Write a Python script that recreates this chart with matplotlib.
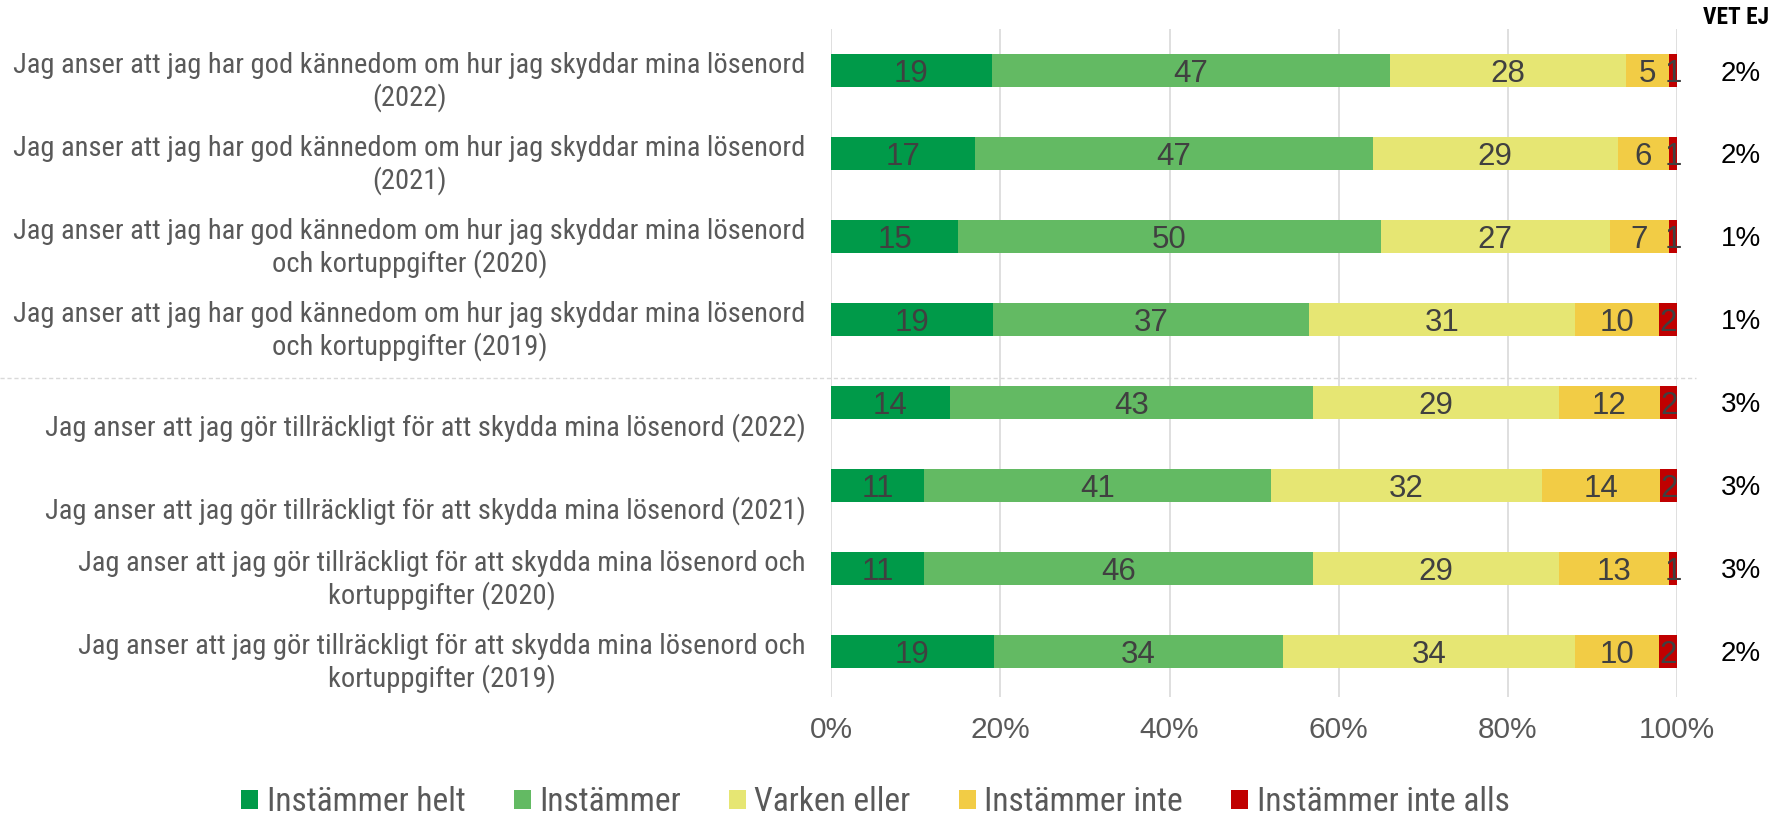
import matplotlib
matplotlib.use("Agg")
import matplotlib.pyplot as plt
from matplotlib import font_manager
from matplotlib.font_manager import FontProperties
import numpy as np

fragor = [
    "Jag anser att jag har god kännedom om hur jag skyddar mina lösenord\n(2022)",
    "Jag anser att jag har god kännedom om hur jag skyddar mina lösenord\n(2021)",
    "Jag anser att jag har god kännedom om hur jag skyddar mina lösenord\noch kortuppgifter (2020)",
    "Jag anser att jag har god kännedom om hur jag skyddar mina lösenord\noch kortuppgifter (2019)",
    "Jag anser att jag gör tillräckligt för att skydda mina lösenord (2022)",
    "Jag anser att jag gör tillräckligt för att skydda mina lösenord (2021)",
    "Jag anser att jag gör tillräckligt för att skydda mina lösenord och\nkortuppgifter (2020)",
    "Jag anser att jag gör tillräckligt för att skydda mina lösenord och\nkortuppgifter (2019)",
]
kategorier = ["Instämmer helt", "Instämmer", "Varken eller", "Instämmer inte", "Instämmer inte alls"]
helt = [19, 17, 15, 19.1, 14, 11, 11, 19.2]
instammer = [47, 47, 50, 37.4, 43, 41, 46, 34.2]
varken = [28, 29, 27, 31.4, 29, 32, 29, 34.5]
inte = [5, 6, 7, 9.9, 12, 14, 13, 10]
inte_alls = [1, 1, 1, 2.2, 2, 2, 1, 2.1]
vet_ej = ["2%", "2%", "1%", "1%", "3%", "3%", "3%", "2%"]

farger = ["#009A49", "#63BA63", "#E6E673", "#F2CC45", "#C00000"]
serier = [helt, instammer, varken, inte, inte_alls]


# smal font om det finns någon (originalet har Franklin Gothic-aktig text)
def hitta_smal(bold=False):
    prio = ["Liberation Sans Narrow", "Roboto Condensed", "Open Sans Condensed",
            "Noto Sans Condensed", "DejaVu Sans Condensed", "DejaVu Sans"]
    hits = []
    for f in font_manager.fontManager.ttflist:
        smal = ("Narrow" in f.name or "Condensed" in f.name
                or f.stretch in ("condensed", "semi-condensed"))
        if not smal or f.style != "normal":
            continue
        w = f.weight if isinstance(f.weight, int) else (700 if f.weight == "bold" else 400)
        if (w >= 700) != bold or (not bold and w != 400):
            continue
        rank = next((i for i, p in enumerate(prio) if f.name.startswith(p)), len(prio))
        hits.append((rank, f.fname))
    if hits:
        return FontProperties(fname=sorted(hits)[0][1])
    return FontProperties(family="Liberation Sans", weight="bold" if bold else "normal")


smal = hitta_smal()
smal_fet = hitta_smal(bold=True)

fig = plt.figure(figsize=(17.72, 8.18), dpi=100)
renderer = fig.canvas.get_renderer()


def anpassa(fp, text, bredd_px, start=17):
    t = fig.text(0, 0, text, fontproperties=fp, fontsize=start)
    w = t.get_window_extent(renderer).width
    t.remove()
    return start * bredd_px / w


storlek_fraga = min(anpassa(smal, "Jag anser att jag har god kännedom om hur jag skyddar mina lösenord", 792), 20.5)
storlek_leg = min(anpassa(smal, "Instämmer helt", 202), 24)
storlek_vet = min(anpassa(smal_fet, "VET EJ", 66), 17)

ax = fig.add_axes([0.469, 0.148, 0.4775, 0.8165])

y = np.arange(len(fragor))
left = np.zeros(len(fragor))
for vals, namn, c in zip(serier, kategorier, farger):
    vals = np.array(vals, dtype=float)
    ax.barh(y, vals, left=left, height=0.4, color=c, label=namn, zorder=3)
    for yi, l, v in zip(y, left, vals):
        ax.text(l + v / 2, yi, f"{v:.0f}", ha="center", va="center_baseline",
                fontsize=22.5, color="#404040", family="Liberation Sans", zorder=4)
    left += vals

ax.set_xlim(0, 100)
ax.set_ylim(7.55, -0.5)
ax.set_xticks(np.arange(0, 101, 20))
ax.set_xticklabels([f"{t}%" for t in range(0, 101, 20)])
ax.tick_params(axis="x", length=0, pad=14, labelsize=21.5, labelcolor="#595959")
for lab in ax.get_xticklabels():
    lab.set_family("Liberation Sans")
ax.set_yticks([])
ax.grid(axis="x", color="#D9D9D9", lw=1.2, zorder=0)
for s in ax.spines.values():
    s.set_visible(False)

# frågetexter, lite nedskjutna som i originalet
for yi, txt in zip(y, fragor):
    off = 0.14 if "\n" in txt else 0.3
    ax.text(-3.0, yi + off, txt, ha="right", va="center", multialignment="center",
            fontproperties=smal, fontsize=storlek_fraga, color="#595959")

# VET EJ kolumn
for yi, v in zip(y, vet_ej):
    ax.text(107.5, yi, v, ha="center", va="center_baseline", fontsize=20, color="black",
            family="Liberation Sans")
fig.text(1736 / 1772, 1 - 17 / 818, "VET EJ", ha="center", va="center",
         fontproperties=smal_fet, fontsize=storlek_vet, color="black")

# streckad avdelare
fig.add_artist(plt.Line2D([0, 0.957], [1 - 378 / 818, 1 - 378 / 818], color="#D9D9D9",
                          lw=1, ls=(0, (3, 2))))

# legend med kvadratiska rutor
fp_leg = smal.copy()
fp_leg.set_size(storlek_leg)
ruta = 17 / (storlek_leg * 100 / 72)
leg = fig.legend(loc="center", bbox_to_anchor=(0.494, 1 - 802 / 818), ncol=5, frameon=False,
                 handlelength=ruta, handleheight=ruta, handletextpad=0.25, columnspacing=1.45,
                 prop=fp_leg)
for t in leg.get_texts():
    t.set_color("#595959")

fig.savefig("out.png", dpi=100)
